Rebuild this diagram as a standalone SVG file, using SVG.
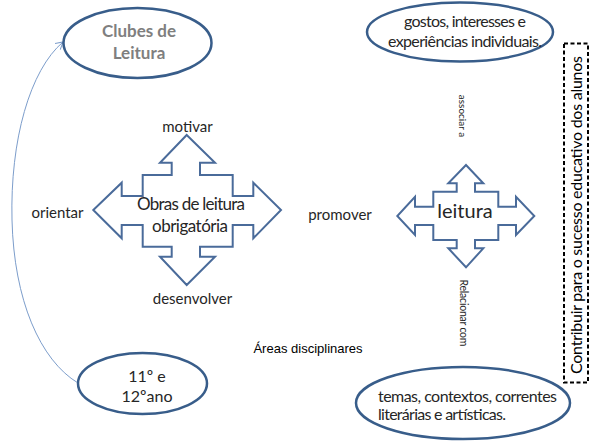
<svg xmlns="http://www.w3.org/2000/svg" width="591" height="442" viewBox="0 0 591 442">
<defs>
<style>
.t{font-family:Lato,"Open Sans","Liberation Sans",sans-serif;fill:#262626;}
.ell{fill:#fff;stroke:#385d8a;stroke-width:2.5;}
.cross{fill:#fff;stroke:#4a6b9a;stroke-width:2;stroke-linejoin:miter;}
.conn{fill:none;stroke:#7c9dcb;stroke-width:1;}
</style>
<marker id="ah" markerWidth="10" markerHeight="10" refX="8" refY="5" orient="auto" markerUnits="userSpaceOnUse">
<path d="M1,1 L8,5 L1,9" fill="none" stroke="#7c9dcb" stroke-width="1"/>
</marker>
</defs>
<rect width="591" height="442" fill="#fff"/>

<g id="connectors">
<path class="conn" d="M78,383 C40,360 14,300 12,220 C10,140 30,70 63,42" marker-start="url(#ah)" marker-end="url(#ah)"/>
</g>

<g id="clubes">
<ellipse class="ell" cx="137.5" cy="43" rx="74" ry="35"/>
<text class="t" x="139" y="37" font-size="17" font-weight="bold" text-anchor="middle" style="fill:#7f7f7f">Clubes de</text>
<text class="t" x="139" y="59" font-size="17" font-weight="bold" text-anchor="middle" style="fill:#7f7f7f">Leitura</text>
</g>

<g id="gostos">
<ellipse class="ell" cx="460" cy="32" rx="93" ry="29.5"/>
<text class="t" x="465" y="27" font-size="16" text-anchor="middle" textLength="122">gostos, interesses e</text>
<text class="t" x="465" y="47" font-size="16" text-anchor="middle" textLength="154">experiências individuais.</text>
</g>

<g id="obras">
<path class="cross" d="M186.7,135 L215,162.7 L200,162.7 L200,175 L232.7,175 L232.7,196 L253.3,196 L253.3,182.7 L281,210 L253.3,238.3 L253.3,225 L232.7,225 L232.7,246.7 L200,246.7 L200,256.7 L215,256.7 L186.7,285 L160,256.7 L171.7,256.7 L171.7,246.7 L142.7,246.7 L142.7,225 L121.7,225 L121.7,238.3 L93.3,210 L121.7,182.7 L121.7,196 L142.7,196 L142.7,175 L171.7,175 L171.7,162.7 L160,162.7 Z"/>
<text class="t" x="191" y="210" font-size="17" text-anchor="middle" textLength="108">Obras de leitura</text>
<text class="t" x="190" y="232" font-size="17" text-anchor="middle" textLength="76">obrigatória</text>
</g>

<g id="leitura">
<path class="cross" d="M466,165 L483.3,183.3 L475,183.3 L475,191.7 L498.3,191.7 L498.3,206.7 L516,206.7 L516,196.7 L534.3,216 L516,235 L516,225 L498.3,225 L498.3,240 L475,240 L475,248.3 L483.3,248.3 L466,267.3 L448.3,248.3 L456.7,248.3 L456.7,240 L433.3,240 L433.3,225 L415,225 L415,235 L397.3,216 L415,196.7 L415,206.7 L433.3,206.7 L433.3,191.7 L456.7,191.7 L456.7,183.3 L448.3,183.3 Z"/>
<text class="t" x="465" y="218" font-size="20" text-anchor="middle">leitura</text>
</g>

<g id="anos">
<ellipse class="ell" cx="142.5" cy="383.5" rx="64.5" ry="30.5"/>
<text class="t" x="147" y="382" font-size="16" text-anchor="middle">11º e</text>
<text class="t" x="147" y="402" font-size="16" text-anchor="middle">12ºano</text>
</g>

<g id="temas">
<ellipse class="ell" cx="463" cy="403" rx="107" ry="36"/>
<text class="t" x="378" y="402" font-size="16" textLength="179">temas, contextos, correntes</text>
<text class="t" x="378" y="420" font-size="16" textLength="128">literárias e artísticas.</text>
</g>

<g id="contribuir">
<rect x="564" y="43.5" width="24" height="339" fill="none" stroke="#000" stroke-width="2" stroke-dasharray="4,2.5"/>
<text class="t" transform="translate(582,215) rotate(-90)" font-size="16" text-anchor="middle" textLength="318" style="fill:#000">Contribuir para o  sucesso educativo dos alunos</text>
</g>

<g id="labels">
<text class="t" x="187.5" y="132" font-size="15" text-anchor="middle">motivar</text>
<text class="t" x="192.5" y="304" font-size="15" text-anchor="middle">desenvolver</text>
<text class="t" x="57.5" y="218" font-size="15" text-anchor="middle">orientar</text>
<text class="t" x="340" y="220" font-size="15" text-anchor="middle">promover</text>
<text x="308" y="353" font-size="13" text-anchor="middle" style="font-family:'Liberation Sans',Arial,sans-serif;fill:#000">Áreas disciplinares</text>
<text class="t" transform="translate(459,116) rotate(90)" font-size="10" text-anchor="middle">associar a</text>
<text class="t" transform="translate(459.5,313) rotate(90)" font-size="10.5" text-anchor="middle" textLength="67">Relacionar com</text>
</g>
</svg>
